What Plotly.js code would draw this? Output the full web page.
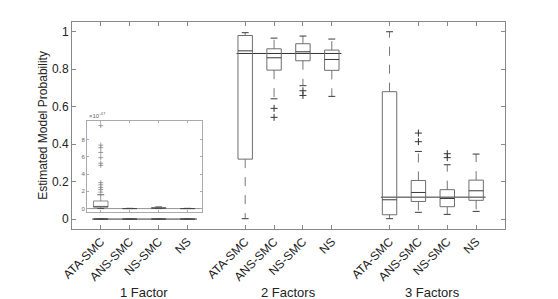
<!DOCTYPE html>
<html><head><meta charset="utf-8">
<script src="https://cdn.plot.ly/plotly-3.0.1.min.js"></script>
<style>html,body{margin:0;padding:0;background:#fff}#c{width:558px;height:299px}</style>
</head><body><div id="c"></div>
<script>
// ---- data ----
const positions = [1,2,3,4, 6,7,8,9, 11,12,13,14];
const methods = ["ATA-SMC","ANS-SMC","NS-SMC","NS","ATA-SMC","ANS-SMC","NS-SMC","NS","ATA-SMC","ANS-SMC","NS-SMC","NS"];
const groupNames = ["1 Factor","2 Factors","3 Factors"];
const groupCenters = [2.5, 7.5, 12.5];
const trueProb = [0, 0.884, 0.117];
const lowerWhisker = [0,0,0,0, 0.002,0.642,0.712,0.655, 0.002,0.036,0.025,0.041];
const q1          = [0,0,0,0, 0.320,0.795,0.845,0.794, 0.023,0.094,0.066,0.100];
const medians     = [0,0,0,0, 0.898,0.861,0.893,0.852, 0.103,0.142,0.110,0.151];
const q3          = [0,0,0,0, 0.980,0.909,0.936,0.902, 0.680,0.206,0.157,0.208];
const upperWhisker= [0,0,0,0, 0.995,0.966,0.977,0.961, 1.000,0.361,0.290,0.347];
const outlierPos  = [7,7, 8,8, 12,12, 13,13];
const outlierVals = [0.591,0.543, 0.685,0.660, 0.459,0.413, 0.349,0.328];
// inset (1 Factor, units of 1e-47)
const insetPos = [1,2,3,4];
const insetLower = [0,0,0,0];
const insetQ1 = [0.15,0,0.02,0];
const insetMed = [0.25,0,0.05,0];
const insetQ3 = [0.88,0.02,0.12,0.02];
const insetUpper = [1.6,0.03,0.2,0.03];
const insetOutlierPos = [1,1,1,1,1,1,1,1,1,1,1,1];
const insetOutlierVals = [9.6,7.35,7.05,6.5,5.9,5.25,5.0,3.0,2.75,2.45,2.2,1.9];

// ---- build ----
const W = 0.25; // half box width
const C = 0.12; // half cap width
const boxCol = '#6e6e6e', medCol = '#3a3a3a', whCol = '#777';
function boxTraces(pos, lo, a, m, b, hi, xa, ya, lw){
  const bx=[],by=[],wx=[],wy=[],cx=[],cy=[],mx=[],my=[];
  pos.forEach((p,i)=>{
    bx.push(p-W,p+W,p+W,p-W,p-W,null); by.push(a[i],a[i],b[i],b[i],a[i],null);
    wx.push(p,p,null,p,p,null); wy.push(b[i],hi[i],null,a[i],lo[i],null);
    cx.push(p-C,p+C,null,p-C,p+C,null); cy.push(hi[i],hi[i],null,lo[i],lo[i],null);
    mx.push(p-W,p+W,null); my.push(m[i],m[i],null);
  });
  const base={type:'scatter',mode:'lines',xaxis:xa,yaxis:ya,hoverinfo:'skip',showlegend:false};
  return [
    Object.assign({},base,{x:wx,y:wy,line:{color:whCol,width:lw,dash:'dash'}}),
    Object.assign({},base,{x:cx,y:cy,line:{color:medCol,width:lw}}),
    Object.assign({},base,{x:bx,y:by,line:{color:boxCol,width:lw}}),
    Object.assign({},base,{x:mx,y:my,line:{color:medCol,width:lw}})
  ];
}
const traces = [];
// reference lines
const rx=[],ry=[];
groupCenters.forEach((g,i)=>{rx.push(g-1.8,g+1.83,null); ry.push(trueProb[i],trueProb[i],null);});
traces.push({type:'scatter',mode:'lines',x:rx,y:ry,line:{color:'#333',width:1},hoverinfo:'skip',showlegend:false});
traces.push(...boxTraces(positions,lowerWhisker,q1,medians,q3,upperWhisker,'x','y',1));
traces.push({type:'scatter',mode:'markers',x:outlierPos,y:outlierVals,marker:{symbol:'cross-thin-open',size:5,color:'#333',line:{color:'#333',width:1}},hoverinfo:'skip',showlegend:false});
// inset
traces.push({type:'scatter',mode:'lines',x:[0.53,4.51],y:[0,0],xaxis:'x2',yaxis:'y2',line:{color:'#777',width:0.8},hoverinfo:'skip',showlegend:false});
traces.push(...boxTraces(insetPos,insetLower,insetQ1,insetMed,insetQ3,insetUpper,'x2','y2',0.8));
traces.push({type:'scatter',mode:'markers',x:insetOutlierPos,y:insetOutlierVals,xaxis:'x2',yaxis:'y2',marker:{symbol:'cross-thin-open',size:3.5,color:'#888',line:{color:'#888',width:0.8}},hoverinfo:'skip',showlegend:false});

const annotations = groupNames.map((t,i)=>({text:t,x:groupCenters[i],xref:'x',y:-0.305,yref:'paper',showarrow:false,xanchor:'center',yanchor:'middle',font:{family:'Liberation Sans, Arial',size:13,color:'#222'}}));
annotations.push({text:'×10<sup>-47</sup>',x:0.035,xref:'paper',y:0.52,yref:'paper',xanchor:'left',yanchor:'bottom',showarrow:false,font:{family:'Liberation Sans, Arial',size:6,color:'#666'}});

const layout = {
  width:558,height:299,margin:{l:72,r:53,t:22,b:70},
  paper_bgcolor:'#fff',plot_bgcolor:'#fff',showlegend:false,
  font:{family:'Liberation Sans, Arial',color:'#222'},
  xaxis:{range:[0,15],tickvals:positions,ticktext:methods,tickangle:-45,ticks:'inside',ticklen:4,tickcolor:'#888',
    showline:true,linecolor:'#888',linewidth:1,mirror:'ticks',showgrid:false,zeroline:false,tickfont:{size:12,color:'#222'},fixedrange:true},
  yaxis:{range:[-0.053,1.052],tickvals:[0,0.2,0.4,0.6,0.8,1],ticktext:['0','0.2','0.4','0.6','0.8','1'],ticks:'inside',ticklen:4,tickcolor:'#888',
    showline:true,linecolor:'#888',linewidth:1,mirror:'ticks',showgrid:false,zeroline:false,tickfont:{size:12,color:'#222'},
    title:{text:'Estimated Model Probability',font:{size:12,color:'#222'},standoff:1}},
  xaxis2:{domain:[0.035,0.301],anchor:'y2',range:[0.53,4.51],tickvals:insetPos,showticklabels:false,ticks:'inside',ticklen:2,tickcolor:'#aaa',
    showline:true,linecolor:'#aaa',linewidth:1,mirror:'ticks',showgrid:false,zeroline:false},
  yaxis2:{domain:[0.082,0.52],anchor:'x2',range:[-0.4,10.1],tickvals:[0,2,4,6,8],ticks:'inside',ticklen:2,tickcolor:'#aaa',
    showline:true,linecolor:'#aaa',linewidth:1,mirror:'ticks',showgrid:false,zeroline:false,tickfont:{size:6,color:'#666'}},
  annotations:annotations
};
Plotly.newPlot('c',traces,layout,{staticPlot:true,displayModeBar:false});
</script></body></html>
